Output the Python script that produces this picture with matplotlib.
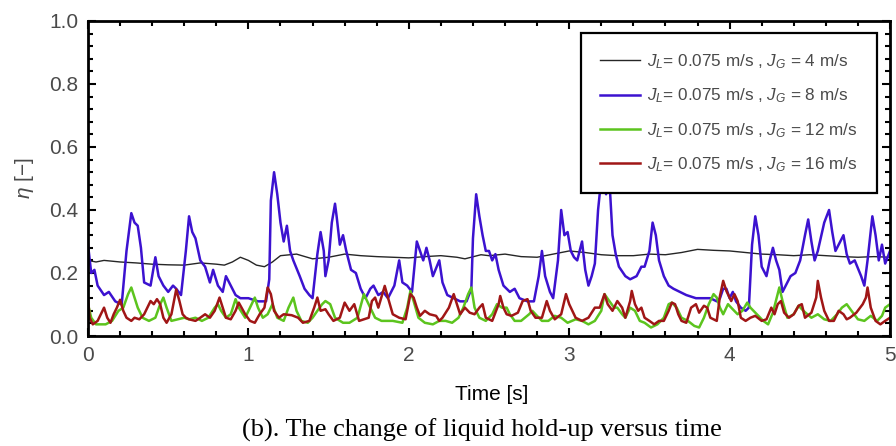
import matplotlib
matplotlib.use('Agg')
import matplotlib.pyplot as plt
from matplotlib.ticker import MultipleLocator

plt.rcParams['font.family'] = ['Liberation Sans', 'DejaVu Sans']
plt.rcParams['mathtext.fontset'] = 'custom'
plt.rcParams['mathtext.rm'] = 'Liberation Sans'
plt.rcParams['mathtext.it'] = 'Liberation Sans:italic'

# series labels
labels = [r'$J_L$= 0.075 m/s , $J_G$ = 4 m/s',
          r'$J_L$= 0.075 m/s , $J_G$ = 8 m/s',
          r'$J_L$= 0.075 m/s , $J_G$ = 12 m/s',
          r'$J_L$= 0.075 m/s , $J_G$ = 16 m/s']

# (time [s], hold-up)
jg4 = [(0.00, 0.240), (0.05, 0.235), (0.10, 0.240), (0.20, 0.235), (0.30, 0.232), (0.40, 0.228),
       (0.50, 0.226), (0.60, 0.225), (0.70, 0.232), (0.80, 0.228), (0.85, 0.225), (0.90, 0.235),
       (0.95, 0.250), (1.00, 0.240), (1.05, 0.225), (1.10, 0.220), (1.15, 0.235), (1.20, 0.255),
       (1.30, 0.260), (1.40, 0.245), (1.50, 0.250), (1.60, 0.260), (1.70, 0.255), (1.80, 0.252),
       (1.90, 0.250), (2.00, 0.248), (2.10, 0.252), (2.20, 0.255), (2.30, 0.250), (2.35, 0.245),
       (2.45, 0.258), (2.50, 0.255), (2.60, 0.260), (2.70, 0.252), (2.80, 0.250), (2.90, 0.260),
       (3.00, 0.270), (3.10, 0.265), (3.20, 0.258), (3.30, 0.255), (3.40, 0.255), (3.50, 0.260),
       (3.60, 0.258), (3.70, 0.265), (3.80, 0.275), (3.90, 0.272), (4.00, 0.270), (4.10, 0.265),
       (4.20, 0.260), (4.30, 0.258), (4.40, 0.255), (4.50, 0.258), (4.60, 0.255), (4.70, 0.252),
       (4.80, 0.250), (4.90, 0.252), (5.00, 0.250)]

jg8 = [(0.00, 0.29), (0.02, 0.20), (0.04, 0.21), (0.06, 0.16), (0.10, 0.13), (0.13, 0.14),
       (0.17, 0.11), (0.21, 0.10), (0.24, 0.27), (0.27, 0.39), (0.29, 0.36), (0.31, 0.35),
       (0.33, 0.28), (0.35, 0.17), (0.39, 0.16), (0.42, 0.25), (0.44, 0.19), (0.47, 0.16),
       (0.50, 0.14), (0.53, 0.16), (0.55, 0.15), (0.58, 0.13), (0.61, 0.27), (0.63, 0.38),
       (0.65, 0.33), (0.67, 0.31), (0.70, 0.24), (0.73, 0.22), (0.76, 0.17), (0.78, 0.21),
       (0.81, 0.16), (0.84, 0.14), (0.86, 0.19), (0.89, 0.16), (0.92, 0.13), (0.95, 0.12),
       (1.00, 0.12), (1.06, 0.11), (1.11, 0.11), (1.13, 0.18), (1.14, 0.43), (1.16, 0.52),
       (1.18, 0.45), (1.20, 0.36), (1.22, 0.30), (1.24, 0.35), (1.26, 0.27), (1.28, 0.24),
       (1.32, 0.19), (1.35, 0.15), (1.38, 0.13), (1.40, 0.12), (1.43, 0.26), (1.45, 0.33),
       (1.47, 0.27), (1.48, 0.19), (1.50, 0.24), (1.52, 0.36), (1.54, 0.42), (1.55, 0.38),
       (1.57, 0.29), (1.59, 0.32), (1.61, 0.27), (1.64, 0.21), (1.67, 0.20), (1.70, 0.15),
       (1.73, 0.12), (1.76, 0.15), (1.78, 0.16), (1.81, 0.13), (1.84, 0.14), (1.87, 0.12),
       (1.91, 0.16), (1.94, 0.24), (1.96, 0.17), (1.99, 0.16), (2.02, 0.14), (2.05, 0.30),
       (2.07, 0.27), (2.09, 0.24), (2.11, 0.28), (2.13, 0.24), (2.15, 0.19), (2.19, 0.24),
       (2.21, 0.17), (2.24, 0.13), (2.28, 0.12), (2.32, 0.11), (2.36, 0.11), (2.39, 0.15),
       (2.40, 0.31), (2.42, 0.45), (2.44, 0.38), (2.46, 0.32), (2.48, 0.27), (2.50, 0.27),
       (2.52, 0.24), (2.54, 0.26), (2.56, 0.21), (2.59, 0.16), (2.63, 0.14), (2.66, 0.15),
       (2.69, 0.12), (2.74, 0.11), (2.78, 0.11), (2.81, 0.19), (2.83, 0.27), (2.85, 0.19),
       (2.88, 0.14), (2.90, 0.12), (2.93, 0.24), (2.95, 0.40), (2.97, 0.32), (2.99, 0.33),
       (3.01, 0.27), (3.03, 0.25), (3.05, 0.24), (3.08, 0.30), (3.10, 0.21), (3.12, 0.16),
       (3.14, 0.19), (3.16, 0.23), (3.18, 0.40), (3.20, 0.50), (3.23, 0.45), (3.25, 0.50),
       (3.27, 0.32), (3.29, 0.26), (3.31, 0.22), (3.35, 0.19), (3.38, 0.18), (3.42, 0.19),
       (3.45, 0.22), (3.47, 0.22), (3.50, 0.27), (3.52, 0.36), (3.54, 0.32), (3.56, 0.24),
       (3.59, 0.19), (3.62, 0.16), (3.65, 0.15), (3.69, 0.14), (3.73, 0.13), (3.79, 0.12),
       (3.84, 0.12), (3.88, 0.12), (3.92, 0.11), (3.94, 0.12), (3.96, 0.15), (3.98, 0.15),
       (4.00, 0.12), (4.02, 0.14), (4.04, 0.11), (4.07, 0.09), (4.10, 0.08), (4.12, 0.09),
       (4.14, 0.29), (4.16, 0.38), (4.18, 0.32), (4.20, 0.22), (4.23, 0.19), (4.25, 0.24),
       (4.27, 0.28), (4.29, 0.24), (4.31, 0.21), (4.33, 0.14), (4.35, 0.16), (4.38, 0.19),
       (4.41, 0.20), (4.44, 0.24), (4.47, 0.32), (4.49, 0.37), (4.51, 0.30), (4.53, 0.24),
       (4.55, 0.27), (4.59, 0.36), (4.62, 0.40), (4.64, 0.33), (4.66, 0.27), (4.69, 0.30),
       (4.71, 0.32), (4.73, 0.26), (4.75, 0.23), (4.78, 0.24), (4.82, 0.19), (4.84, 0.16),
       (4.86, 0.24), (4.89, 0.38), (4.91, 0.32), (4.93, 0.24), (4.95, 0.29), (4.97, 0.23),
       (5.00, 0.27)]

jg12 = [(0.00, 0.101), (0.02, 0.058), (0.05, 0.037), (0.11, 0.037), (0.15, 0.048), (0.19, 0.080),
        (0.22, 0.090), (0.25, 0.133), (0.27, 0.154), (0.29, 0.122), (0.31, 0.090), (0.34, 0.058),
        (0.38, 0.048), (0.42, 0.058), (0.45, 0.101), (0.47, 0.122), (0.49, 0.090), (0.52, 0.048),
        (0.56, 0.053), (0.60, 0.058), (0.63, 0.053), (0.67, 0.058), (0.71, 0.048), (0.75, 0.058),
        (0.79, 0.090), (0.81, 0.101), (0.83, 0.080), (0.86, 0.058), (0.89, 0.069), (0.92, 0.117),
        (0.94, 0.090), (0.98, 0.058), (1.01, 0.090), (1.04, 0.122), (1.06, 0.090), (1.09, 0.058),
        (1.12, 0.069), (1.15, 0.101), (1.18, 0.058), (1.22, 0.048), (1.25, 0.090), (1.28, 0.122),
        (1.30, 0.080), (1.33, 0.048), (1.37, 0.042), (1.40, 0.058), (1.43, 0.080), (1.46, 0.101),
        (1.48, 0.111), (1.51, 0.101), (1.54, 0.058), (1.59, 0.042), (1.63, 0.042), (1.68, 0.058),
        (1.72, 0.133), (1.74, 0.111), (1.76, 0.090), (1.79, 0.058), (1.83, 0.048), (1.90, 0.048),
        (1.96, 0.042), (1.99, 0.090), (2.01, 0.143), (2.03, 0.111), (2.06, 0.058), (2.10, 0.042),
        (2.15, 0.037), (2.19, 0.048), (2.23, 0.048), (2.27, 0.042), (2.31, 0.058), (2.34, 0.090),
        (2.37, 0.133), (2.39, 0.154), (2.41, 0.090), (2.44, 0.058), (2.48, 0.048), (2.52, 0.069),
        (2.55, 0.101), (2.58, 0.090), (2.61, 0.090), (2.63, 0.069), (2.66, 0.048), (2.70, 0.048),
        (2.75, 0.069), (2.77, 0.080), (2.79, 0.069), (2.83, 0.048), (2.87, 0.048), (2.91, 0.064),
        (2.95, 0.058), (2.99, 0.042), (3.04, 0.053), (3.08, 0.048), (3.12, 0.037), (3.16, 0.048),
        (3.20, 0.080), (3.22, 0.133), (3.25, 0.111), (3.28, 0.090), (3.30, 0.090), (3.33, 0.069),
        (3.35, 0.058), (3.38, 0.090), (3.41, 0.080), (3.44, 0.048), (3.47, 0.042), (3.51, 0.027),
        (3.55, 0.037), (3.59, 0.058), (3.62, 0.101), (3.64, 0.106), (3.67, 0.090), (3.70, 0.058),
        (3.74, 0.048), (3.78, 0.032), (3.81, 0.027), (3.84, 0.058), (3.87, 0.101), (3.90, 0.133),
        (3.92, 0.122), (3.94, 0.090), (3.96, 0.069), (3.99, 0.101), (4.01, 0.090), (4.05, 0.069),
        (4.08, 0.080), (4.11, 0.106), (4.13, 0.090), (4.17, 0.069), (4.21, 0.048), (4.24, 0.037),
        (4.27, 0.074), (4.31, 0.154), (4.33, 0.111), (4.36, 0.058), (4.40, 0.069), (4.43, 0.096),
        (4.46, 0.080), (4.51, 0.058), (4.55, 0.069), (4.59, 0.053), (4.63, 0.048), (4.67, 0.069),
        (4.70, 0.090), (4.73, 0.101), (4.76, 0.080), (4.80, 0.053), (4.84, 0.048), (4.88, 0.064),
        (4.92, 0.048), (4.95, 0.064), (4.97, 0.090), (5.00, 0.101)]

jg16 = [(0.00, 0.122), (0.01, 0.058), (0.03, 0.037), (0.06, 0.048), (0.10, 0.090), (0.12, 0.058),
        (0.14, 0.042), (0.16, 0.069), (0.18, 0.090), (0.20, 0.115), (0.22, 0.080), (0.24, 0.058),
        (0.27, 0.048), (0.29, 0.058), (0.32, 0.053), (0.35, 0.069), (0.39, 0.111), (0.41, 0.101),
        (0.43, 0.117), (0.45, 0.101), (0.47, 0.058), (0.49, 0.042), (0.52, 0.069), (0.55, 0.148),
        (0.57, 0.111), (0.59, 0.069), (0.61, 0.058), (0.63, 0.053), (0.67, 0.048), (0.70, 0.058),
        (0.73, 0.069), (0.76, 0.058), (0.79, 0.080), (0.82, 0.122), (0.84, 0.090), (0.86, 0.058),
        (0.89, 0.053), (0.92, 0.080), (0.94, 0.106), (0.98, 0.069), (1.01, 0.048), (1.04, 0.042),
        (1.07, 0.069), (1.10, 0.090), (1.12, 0.154), (1.14, 0.133), (1.16, 0.080), (1.19, 0.058),
        (1.22, 0.069), (1.27, 0.066), (1.31, 0.058), (1.34, 0.042), (1.38, 0.048), (1.41, 0.090),
        (1.43, 0.122), (1.45, 0.080), (1.48, 0.085), (1.50, 0.069), (1.53, 0.048), (1.57, 0.058),
        (1.60, 0.106), (1.63, 0.080), (1.66, 0.101), (1.69, 0.048), (1.75, 0.058), (1.77, 0.111),
        (1.79, 0.122), (1.81, 0.090), (1.85, 0.159), (1.87, 0.122), (1.90, 0.069), (1.94, 0.058),
        (1.98, 0.053), (2.01, 0.133), (2.03, 0.122), (2.05, 0.090), (2.07, 0.064), (2.10, 0.080),
        (2.13, 0.069), (2.17, 0.064), (2.19, 0.048), (2.21, 0.058), (2.25, 0.090), (2.28, 0.133),
        (2.30, 0.101), (2.32, 0.069), (2.35, 0.090), (2.38, 0.074), (2.41, 0.069), (2.44, 0.090),
        (2.46, 0.101), (2.48, 0.058), (2.52, 0.048), (2.56, 0.101), (2.57, 0.127), (2.59, 0.090),
        (2.61, 0.069), (2.64, 0.064), (2.68, 0.074), (2.71, 0.111), (2.74, 0.117), (2.76, 0.080),
        (2.79, 0.058), (2.83, 0.058), (2.86, 0.111), (2.88, 0.080), (2.91, 0.053), (2.95, 0.069),
        (2.98, 0.133), (3.00, 0.101), (3.04, 0.058), (3.08, 0.048), (3.12, 0.058), (3.16, 0.090),
        (3.19, 0.090), (3.22, 0.133), (3.24, 0.101), (3.27, 0.080), (3.30, 0.111), (3.33, 0.090),
        (3.35, 0.058), (3.38, 0.111), (3.39, 0.143), (3.41, 0.101), (3.43, 0.080), (3.45, 0.090),
        (3.47, 0.058), (3.50, 0.048), (3.53, 0.037), (3.56, 0.048), (3.59, 0.048), (3.62, 0.080),
        (3.64, 0.106), (3.66, 0.101), (3.68, 0.069), (3.70, 0.048), (3.73, 0.042), (3.76, 0.090),
        (3.79, 0.101), (3.81, 0.074), (3.84, 0.096), (3.86, 0.090), (3.88, 0.058), (3.92, 0.048),
        (3.94, 0.127), (3.96, 0.175), (3.98, 0.143), (4.01, 0.111), (4.03, 0.133), (4.05, 0.111),
        (4.07, 0.058), (4.10, 0.048), (4.13, 0.058), (4.16, 0.064), (4.20, 0.048), (4.23, 0.053),
        (4.26, 0.090), (4.28, 0.069), (4.30, 0.101), (4.32, 0.111), (4.34, 0.074), (4.37, 0.058),
        (4.40, 0.069), (4.43, 0.096), (4.45, 0.101), (4.47, 0.058), (4.51, 0.074), (4.54, 0.122),
        (4.55, 0.175), (4.57, 0.122), (4.59, 0.080), (4.62, 0.048), (4.65, 0.048), (4.68, 0.080),
        (4.71, 0.069), (4.73, 0.053), (4.75, 0.058), (4.79, 0.074), (4.83, 0.101), (4.85, 0.122),
        (4.86, 0.154), (4.88, 0.090), (4.91, 0.048), (4.94, 0.037), (4.97, 0.048), (5.00, 0.058)]

series = [jg4, jg8, jg12, jg16]
colors = ['#262626', '#3c12d0', '#5cc41e', '#a01616']
widths = [1.0, 1.8, 1.8, 1.8]

fig = plt.figure(figsize=(8.96, 4.46), dpi=100)
ax = fig.add_axes([88 / 896, 1 - 336 / 446, 802 / 896, 315 / 446])

for data, c, lw, lab in zip(series, colors, widths, labels):
    t, v = zip(*data)
    ax.plot(t, v, color=c, linewidth=lw, label=lab)

ax.set_xlim(0, 5)
ax.set_ylim(0, 1.0)
ax.xaxis.set_major_locator(MultipleLocator(1))
ax.xaxis.set_minor_locator(MultipleLocator(0.2))
ax.yaxis.set_major_locator(MultipleLocator(0.2))
ax.yaxis.set_minor_locator(MultipleLocator(0.04))
ax.yaxis.set_major_formatter(lambda v, p: f'{v:.1f}')
ax.tick_params(which='both', direction='in', top=True, right=True, width=1.5,
               labelsize=15, labelcolor='#4a4a4a')
ax.tick_params(which='major', length=6, pad=7)
ax.tick_params(which='minor', length=3.5)
for s in ax.spines.values():
    s.set_linewidth(2)

leg = ax.legend(loc='upper right', bbox_to_anchor=(0.984, 0.962), borderaxespad=0,
                fontsize=12.3, frameon=True, fancybox=False, framealpha=1,
                handlelength=2.3, handletextpad=0.45, labelspacing=0.92, borderpad=1.12)
leg.get_frame().set_edgecolor('black')
leg.get_frame().set_linewidth(1.6)
for txt in leg.get_texts():
    txt.set_color('#4a4a4a')

fig.text(492 / 896, 1 - 395 / 446, 'Time [s]', ha='center', va='center', fontsize=15)
fig.text(25 / 896, 1 - 178 / 446, r'$\eta$ [−]', ha='center', va='center',
         rotation=90, fontsize=15, color='#4a4a4a')
fig.text(482 / 896, 1 - 430 / 446, '(b). The change of liquid hold-up versus time',
         ha='center', va='center', fontsize=19, family='Liberation Serif')

fig.savefig('out.png', dpi=100)
